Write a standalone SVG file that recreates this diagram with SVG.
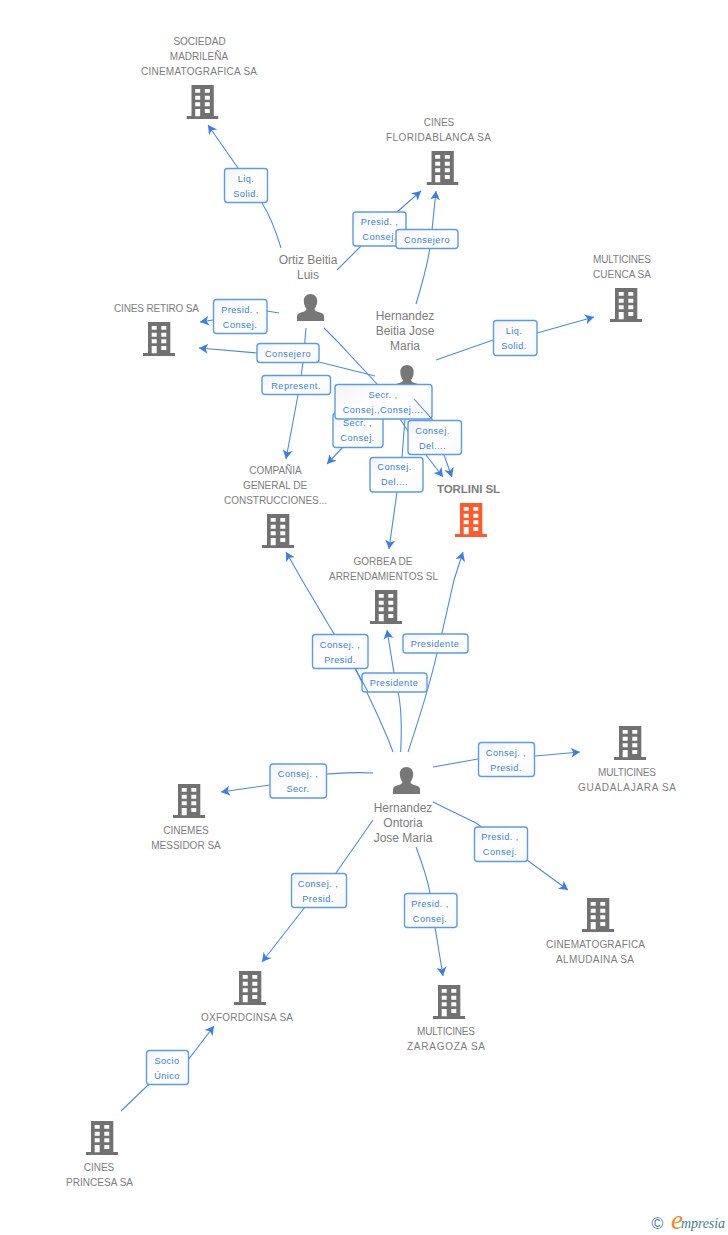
<svg xmlns="http://www.w3.org/2000/svg" width="728" height="1235" viewBox="0 0 728 1235">
<style>
.bl{font:10px "Liberation Sans",Arial,sans-serif;fill:#7d7d7d;text-anchor:middle}
.pl{font:12px "Liberation Sans",Arial,sans-serif;fill:#7d7d7d;text-anchor:middle}
.el{font:9.2px "Liberation Sans",Arial,sans-serif;fill:#3b7fe0;text-anchor:middle;letter-spacing:.45px}
.c{fill:none;stroke:#4a8ae4;stroke-width:1.1}
.b{fill:url(#g);stroke:#5b9bec;stroke-width:1.4}
</style>
<defs>
<linearGradient id="g" x1="0" y1="0" x2="1" y2="1"><stop offset="0" stop-color="#f3f3f3"/><stop offset=".45" stop-color="#fff"/><stop offset="1" stop-color="#f8f9fb"/></linearGradient>
<marker id="a" markerUnits="userSpaceOnUse" markerWidth="12" markerHeight="12" refX="9" refY="6" orient="auto"><path d="M0 1L9 6L0 11L2.500 6Z" fill="#3b7fe0"/></marker>
<symbol id="bd" viewBox="0 0 32 34" width="32" height="34"><path fill="currentColor" fill-rule="evenodd" d="M5 0H27.300V31H32V34H0V31H5ZM8.700 4V7.700H13.700V4ZM18.300 4V7.700H23.300V4ZM8.700 10.700V14.700H13.700V10.700ZM18.300 10.700V14.700H23.300V10.700ZM8.700 17.300V21.300H13.700V17.300ZM18.300 17.300V21.300H23.300V17.300ZM8.700 24V31.300H13.700V24ZM18.300 24V28H23.300V24Z"/></symbol>
<symbol id="pr" viewBox="0 0 27 27" width="27" height="27"><path fill="#777" d="M13.500 0C17.500 0 20.200 3 20.200 7C20.200 11 18.500 13.500 17.500 15C17.500 16.500 19 17.500 23 18.500C26 19.300 27 20.500 27 23V27H0V23C0 20.500 1 19.300 4 18.500C8 17.500 9.500 16.500 9.500 15C8.500 13.500 6.800 11 6.800 7C6.800 3 9.500 0 13.500 0Z"/></symbol>
</defs>

<g id="connectors">
<path class="c" marker-end="url(#a)" d="M281 248C275 228 269 214 262 203L238 168L208 125"/>
<path class="c" marker-end="url(#a)" d="M337 270L361 246L397 212L421 191"/>
<path class="c" marker-end="url(#a)" d="M416 304C424 278 429 258 431 240L436 191"/>
<path class="c" marker-end="url(#a)" d="M279 313L267 311L213 320L200 322"/>
<path class="c" marker-end="url(#a)" d="M375 376L319 362L257 353L199 348"/>
<path class="c" marker-end="url(#a)" d="M306 328L303 363L298 395L286 459"/>
<path class="c" marker-end="url(#a)" d="M324 328L336 340L377 384L400 419L408 431L426 455L443 477"/>
<path class="c" marker-end="url(#a)" d="M414 399L432 419L444 455L452 477"/>
<path class="c" marker-end="url(#a)" d="M405 385V419L402 457L397 492L389 549"/>
<path class="c" marker-end="url(#a)" d="M360 430L342 448L327 464"/>
<path class="c" marker-end="url(#a)" d="M436 360L493 340L537 333L594 317"/>
<path class="c" marker-end="url(#a)" d="M393 752C382 722 368 695 355 668L334 634L302 580L286 552"/>
<path class="c" marker-end="url(#a)" d="M400.700 752C402 725 401 705 398 692L394 673L387 630"/>
<path class="c" marker-end="url(#a)" d="M408 752C422 710 431 680 437 653L442 633L454 580L463 552"/>
<path class="c" marker-end="url(#a)" d="M373 773C355 772 342 773 327 774L270 785L221 792"/>
<path class="c" marker-end="url(#a)" d="M433 767L478 759L535 756L580 752"/>
<path class="c" marker-end="url(#a)" d="M433 802L476 823L527 860L568 890"/>
<path class="c" marker-end="url(#a)" d="M416 847C424 868 428 882 430 893L435 927L443 976"/>
<path class="c" marker-end="url(#a)" d="M373 820L336 873L305 907L262 962"/>
<path class="c" marker-end="url(#a)" d="M121 1111L147 1086L188 1060L214 1026"/>
</g>

<g id="person-ortiz"><use href="#pr" x="297" y="294"/><text class="pl" x="308" y="264">Ortiz Beitia</text><text class="pl" x="308" y="279">Luis</text></g>
<g id="person-hbeitia"><use href="#pr" x="393.500" y="365"/><text class="pl" x="405" y="320">Hernandez</text><text class="pl" x="405" y="335">Beitia Jose</text><text class="pl" x="405" y="350">Maria</text></g>
<g id="person-hontoria"><use href="#pr" x="393" y="767"/><text class="pl" x="403" y="812">Hernandez</text><text class="pl" x="403" y="827">Ontoria</text><text class="pl" x="403" y="842">Jose Maria</text></g>

<g id="n-sociedad" color="#717171"><use href="#bd" x="186.500" y="85"/><text class="bl" x="199.500" y="45">SOCIEDAD</text><text class="bl" x="199" y="60">MADRILEÑA</text><text class="bl" x="199" y="75" textLength="116">CINEMATOGRAFICA SA</text></g>
<g id="n-florida" color="#717171"><use href="#bd" x="426.500" y="151"/><text class="bl" x="439" y="126">CINES</text><text class="bl" x="438.500" y="141" textLength="105">FLORIDABLANCA SA</text></g>
<g id="n-retiro" color="#717171"><use href="#bd" x="143" y="322"/><text class="bl" x="156.500" y="312" textLength="85">CINES RETIRO SA</text></g>
<g id="n-cuenca" color="#717171"><use href="#bd" x="610" y="288"/><text class="bl" x="622" y="263" textLength="58">MULTICINES</text><text class="bl" x="622" y="278">CUENCA SA</text></g>
<g id="n-compania" color="#717171"><use href="#bd" x="262" y="514"/><text class="bl" x="275.500" y="474">COMPAÑIA</text><text class="bl" x="275" y="489">GENERAL DE</text><text class="bl" x="275.500" y="504" textLength="103">CONSTRUCCIONES...</text></g>
<g id="n-torlini" color="#ff5a2b"><use href="#bd" x="455" y="503"/><text x="468.500" y="493" text-anchor="middle" font-family="'Liberation Sans',Arial,sans-serif" font-size="11.500" font-weight="bold" fill="#7d7d7d" textLength="63">TORLINI SL</text></g>
<g id="n-gorbea" color="#717171"><use href="#bd" x="370" y="590"/><text class="bl" x="383" y="565">GORBEA DE</text><text class="bl" x="383.500" y="580" textLength="109">ARRENDAMIENTOS SL</text></g>
<g id="n-guadalajara" color="#717171"><use href="#bd" x="614" y="726"/><text class="bl" x="627" y="776" textLength="58">MULTICINES</text><text class="bl" x="627" y="791" textLength="98">GUADALAJARA SA</text></g>
<g id="n-messidor" color="#717171"><use href="#bd" x="173" y="784"/><text class="bl" x="186" y="834">CINEMES</text><text class="bl" x="186" y="849">MESSIDOR SA</text></g>
<g id="n-almudaina" color="#717171"><use href="#bd" x="582" y="898"/><text class="bl" x="595.500" y="948" textLength="99">CINEMATOGRAFICA</text><text class="bl" x="595" y="963" textLength="78">ALMUDAINA SA</text></g>
<g id="n-oxford" color="#717171"><use href="#bd" x="234" y="971"/><text class="bl" x="247" y="1021" textLength="92">OXFORDCINSA SA</text></g>
<g id="n-zaragoza" color="#717171"><use href="#bd" x="433" y="985"/><text class="bl" x="446" y="1035" textLength="58">MULTICINES</text><text class="bl" x="446" y="1050" textLength="78">ZARAGOZA SA</text></g>
<g id="n-princesa" color="#717171"><use href="#bd" x="86" y="1121"/><text class="bl" x="99" y="1171">CINES</text><text class="bl" x="99.500" y="1186" textLength="67">PRINCESA SA</text></g>

<g id="edge-labels">
<g><rect class="b" x="224.500" y="168.500" width="43" height="34" rx="3"/><text class="el" x="246" y="182">Liq.</text><text class="el" x="246" y="197">Solid.</text></g>
<g><rect class="b" x="353" y="212" width="53" height="34" rx="3"/><text class="el" x="379.500" y="225">Presid. ,</text><text class="el" x="379.500" y="240">Consej.</text></g>
<g><rect class="b" x="396" y="229.500" width="62" height="19" rx="3"/><text class="el" x="427" y="243">Consejero</text></g>
<g><rect class="b" x="213.500" y="299.500" width="53.500" height="34" rx="3"/><text class="el" x="240" y="313">Presid. ,</text><text class="el" x="240" y="328">Consej.</text></g>
<g><rect class="b" x="257" y="343.500" width="62" height="19" rx="3"/><text class="el" x="288" y="357">Consejero</text></g>
<g><rect class="b" x="262" y="375.500" width="68.500" height="19" rx="3"/><text class="el" x="296" y="389">Represent.</text></g>
<g><rect class="b" x="333" y="413" width="50" height="34.500" rx="3"/><text class="el" x="357.500" y="426">Secr. ,</text><text class="el" x="357.500" y="441">Consej.</text></g>
<g><rect class="b" x="335" y="384.500" width="97" height="34.500" rx="3"/><text class="el" x="383" y="398">Secr. ,</text><text class="el" x="383" y="413">Consej.,Consej....</text></g>
<g><rect class="b" x="408" y="420.500" width="53.500" height="34" rx="3"/><text class="el" x="432.500" y="434">Consej.</text><text class="el" x="432.500" y="449">Del....</text></g>
<g><rect class="b" x="370" y="457.500" width="53" height="34.500" rx="3"/><text class="el" x="394.500" y="470">Consej.</text><text class="el" x="394.500" y="485">Del....</text></g>
<g><rect class="b" x="493.500" y="320.500" width="43.500" height="35" rx="3"/><text class="el" x="514" y="334">Liq.</text><text class="el" x="514" y="349">Solid.</text></g>
<g><rect class="b" x="312.500" y="634.500" width="55.500" height="34" rx="3"/><text class="el" x="340" y="648">Consej. ,</text><text class="el" x="340" y="663">Presid.</text></g>
<g><rect class="b" x="403" y="634" width="65" height="19" rx="3"/><text class="el" x="435" y="647">Presidente</text></g>
<g><rect class="b" x="362" y="673" width="65" height="19" rx="3"/><text class="el" x="394" y="686">Presidente</text></g>
<g><rect class="b" x="270" y="764" width="56.500" height="34" rx="3"/><text class="el" x="298" y="777">Consej. ,</text><text class="el" x="298" y="792">Secr.</text></g>
<g><rect class="b" x="478.500" y="742.500" width="56" height="34" rx="3"/><text class="el" x="506" y="756">Consej. ,</text><text class="el" x="506" y="771">Presid.</text></g>
<g><rect class="b" x="474.500" y="827" width="53" height="34.500" rx="3"/><text class="el" x="500" y="840">Presid. ,</text><text class="el" x="500" y="855">Consej.</text></g>
<g><rect class="b" x="291.500" y="873.500" width="55" height="34" rx="3"/><text class="el" x="318" y="887">Consej. ,</text><text class="el" x="318" y="902">Presid.</text></g>
<g><rect class="b" x="404.500" y="893.500" width="52.500" height="34" rx="3"/><text class="el" x="430" y="907">Presid. ,</text><text class="el" x="430" y="922">Consej.</text></g>
<g><rect class="b" x="146.500" y="1050.500" width="42" height="34" rx="3"/><text class="el" x="167" y="1064">Socio</text><text class="el" x="167" y="1079">Único</text></g>
</g>

<g id="connectors-over">
<path class="c" d="M414 399L432 419"/>
<path class="c" d="M355 668L368 692"/>
</g>

<g id="logo">
<text x="657.500" y="1229" text-anchor="middle" font-family="'Liberation Sans',Arial,sans-serif" font-size="16" fill="#3f7f93">©</text>
<text x="671" y="1229" font-family="'Liberation Serif',serif" font-style="italic" font-size="27" fill="#f08a1d">e</text>
<text x="681" y="1228" font-family="'Liberation Serif',serif" font-style="italic" font-size="14" fill="#3f7f93" textLength="44">mpresia</text>
</g>
</svg>
